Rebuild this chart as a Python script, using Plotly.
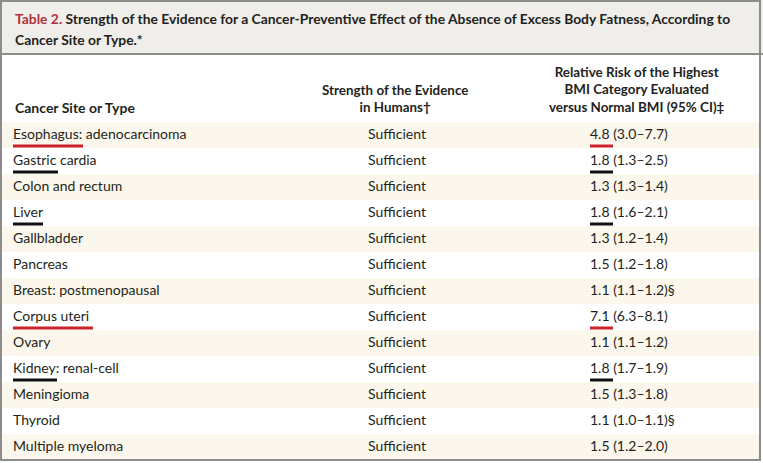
import plotly.graph_objects as go

# Table data
sites = ["Esophagus: adenocarcinoma", "Gastric cardia", "Colon and rectum", "Liver",
         "Gallbladder", "Pancreas", "Breast: postmenopausal", "Corpus uteri", "Ovary",
         "Kidney: renal-cell", "Meningioma", "Thyroid", "Multiple myeloma"]
strength = ["Sufficient", "Sufficient", "Sufficient", "Sufficient", "Sufficient",
            "Sufficient", "Sufficient", "Sufficient", "Sufficient", "Sufficient",
            "Sufficient", "Sufficient", "Sufficient"]
rr = [4.8, 1.8, 1.3, 1.8, 1.3, 1.5, 1.1, 7.1, 1.1, 1.8, 1.5, 1.1, 1.5]
ci_low = [3.0, 1.3, 1.3, 1.6, 1.2, 1.2, 1.1, 6.3, 1.1, 1.7, 1.3, 1.0, 1.2]
ci_high = [7.7, 2.5, 1.4, 2.1, 1.4, 1.8, 1.2, 8.1, 1.2, 1.9, 1.8, 1.1, 2.0]
footnote = ["", "", "", "", "", "", "§", "", "", "", "", "§", ""]
# highlighted rows (underlined words) and their marker colour
marked_word = ["Esophagus", "Gastric", "", "Liver", "", "", "", "Corpus uteri", "",
               "Kidney", "", "", ""]
marked_color = ["red", "black", None, "black", None, None, None, "red", None,
                "black", None, None, None]

title_lead = "Table 2."
title_rest = ("Strength of the Evidence for a Cancer-Preventive Effect of the Absence of "
              "Excess Body Fatness, According to")
title_line2 = "Cancer Site or Type.*"
col_headers = ["Cancer Site or Type",
               "Strength of the Evidence<br>in Humans†",
               "Relative Risk of the Highest<br>BMI Category Evaluated<br>versus Normal BMI (95% CI)‡"]

# style / layout
W, H = 763, 463
FONT = "Lato"
TXT = "#231f20"
CREAM = "#fcf7ec"
TITLE_BG = "#efeeea"
BORDER = "#8c8c8c"
COLORS = {"red": "#cc2229", "black": "#111111"}
UNDERLINE_PX = {"Esophagus": 70, "Gastric": 45, "Liver": 30, "Corpus uteri": 80, "Kidney": 44}
VALUE_UL_PX = 23
ROW0_PX, ROW_H = 135, 26      # pixel centre of first row, row height
X_SITE, X_STR, X_RR = 13, 397, 590

n = len(sites)
rows = list(range(n))
values = [f"{r:.1f} ({lo:.1f}–{hi:.1f}){f}" for r, lo, hi, f in zip(rr, ci_low, ci_high, footnote)]


def py(px):  # pixel -> paper y
    return 1 - px / H


fig = go.Figure()
font = dict(family=FONT, size=14, color=TXT)
fig.add_trace(go.Scatter(x=[X_SITE] * n, y=rows, text=sites, mode="text",
                         textposition="middle right", textfont=font, hoverinfo="skip"))
fig.add_trace(go.Scatter(x=[X_STR] * n, y=rows, text=strength, mode="text",
                         textposition="middle center", textfont=font, hoverinfo="skip"))
fig.add_trace(go.Scatter(x=[X_RR] * n, y=rows, text=values, mode="text",
                         textposition="middle right", textfont=font, hoverinfo="skip"))

shapes = []
# striped rows
for i in rows:
    if i % 2 == 0:
        shapes.append(dict(type="rect", xref="x", yref="y", x0=2, x1=760, y0=i - 0.5, y1=i + 0.5,
                           fillcolor=CREAM, line=dict(width=0), layer="below"))
# underlines
for i, (w, c) in enumerate(zip(marked_word, marked_color)):
    if c is None:
        continue
    yy = i + 11 / ROW_H
    shapes.append(dict(type="line", xref="x", yref="y", x0=X_SITE, x1=X_SITE + UNDERLINE_PX[w],
                       y0=yy, y1=yy, line=dict(color=COLORS[c], width=3)))
    shapes.append(dict(type="line", xref="x", yref="y", x0=X_RR, x1=X_RR + VALUE_UL_PX,
                       y0=yy, y1=yy, line=dict(color=COLORS[c], width=3)))
# title box and frame
shapes.append(dict(type="rect", xref="paper", yref="paper", x0=0, x1=1, y0=py(54), y1=1,
                   fillcolor=TITLE_BG, line=dict(width=0), layer="below"))
shapes.append(dict(type="line", xref="paper", yref="paper", x0=0, x1=1, y0=py(54), y1=py(54),
                   line=dict(color=BORDER, width=2)))
shapes.append(dict(type="rect", xref="paper", yref="paper", x0=1 / W, x1=760 / W,
                   y0=py(460), y1=py(1), line=dict(color=BORDER, width=2)))

ann = []
ann.append(dict(x=X_SITE / W, y=py(18), xref="paper", yref="paper", xanchor="left", yanchor="middle",
                showarrow=False,
                text=f"<span style='color:#b0323c'>{title_lead}</span> {title_rest}",
                font=dict(family=FONT, size=13.85, color=TXT, weight="bold")))
ann.append(dict(x=X_SITE / W, y=py(40), xref="paper", yref="paper", xanchor="left", yanchor="middle",
                showarrow=False, text=title_line2,
                font=dict(family=FONT, size=13.85, color=TXT, weight="bold")))
hfont = dict(family=FONT, size=14, color=TXT, weight="bold")
ann.append(dict(x=X_SITE / W, y=py(107), xref="paper", yref="paper", xanchor="left",
                yanchor="middle", showarrow=False, text=col_headers[0], font=hfont))
hfont_ml = dict(family=FONT, size=13.4, color=TXT, weight="bold")
ann.append(dict(x=395 / W, y=py(117), xref="paper", yref="paper", xanchor="center",
                yanchor="bottom", showarrow=False, text=col_headers[1], font=hfont_ml, align="center"))
ann.append(dict(x=637 / W, y=py(117), xref="paper", yref="paper", xanchor="center",
                yanchor="bottom", showarrow=False, text=col_headers[2], font=hfont_ml, align="center"))

fig.update_layout(
    width=W, height=H, margin=dict(l=0, r=0, t=0, b=0),
    paper_bgcolor="white", plot_bgcolor="white", showlegend=False,
    xaxis=dict(range=[0, W], visible=False, fixedrange=True),
    yaxis=dict(range=[(H - ROW0_PX) / ROW_H, -ROW0_PX / ROW_H], visible=False, fixedrange=True),
    shapes=shapes, annotations=ann,
)

# drop the browser's default body margin so the figure fills the window exactly
fig.write_html("out.html", config={"displayModeBar": False},
               post_script="document.body.style.margin='0px';")
